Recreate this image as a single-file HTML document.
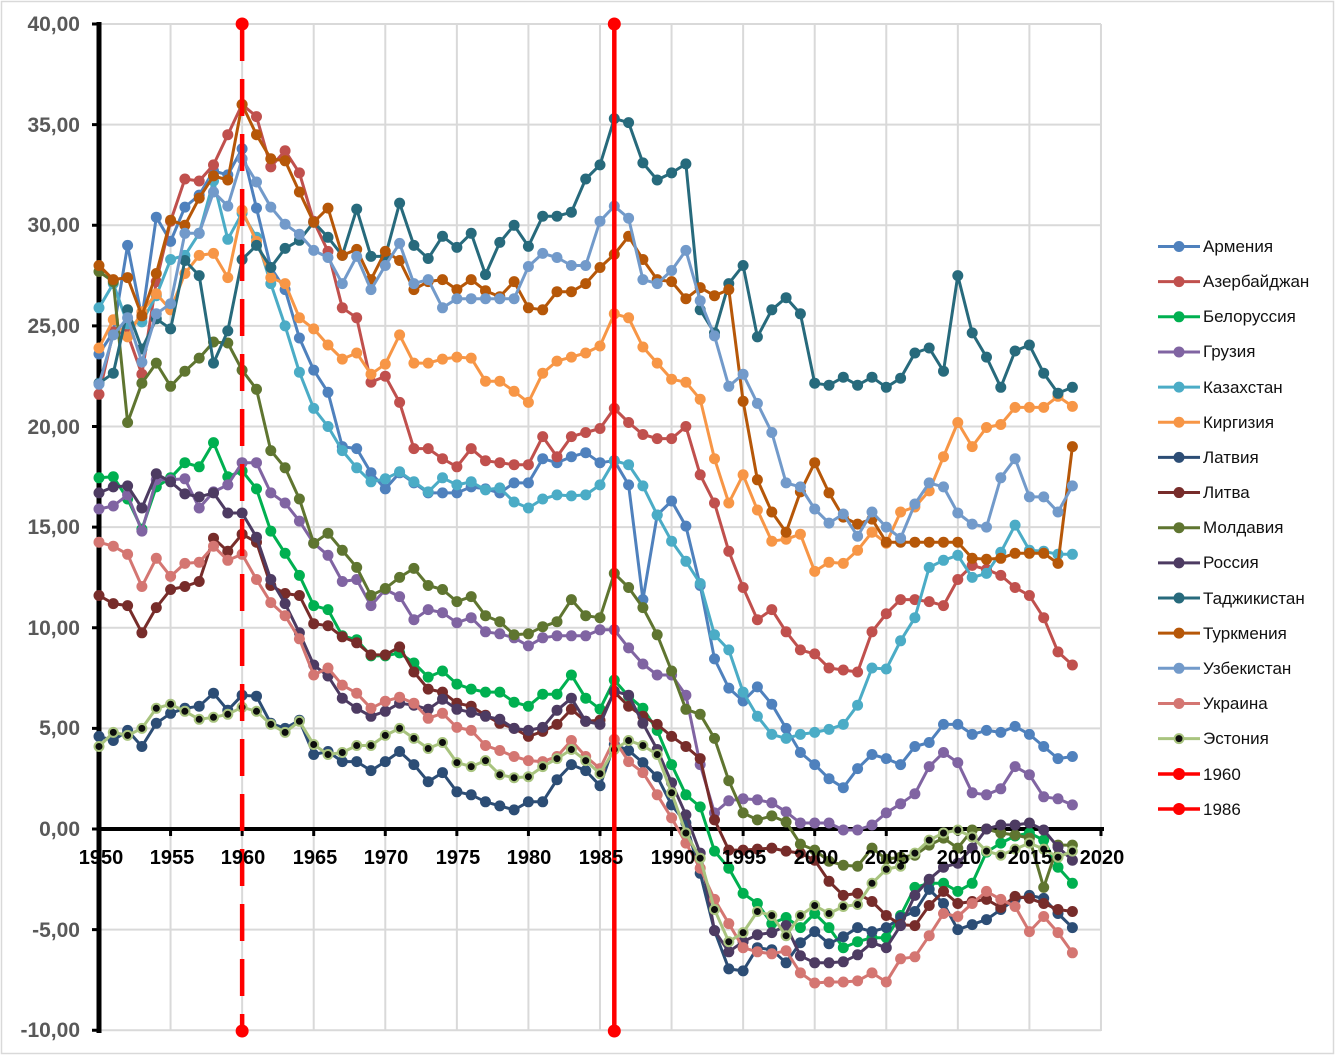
<!DOCTYPE html>
<html><head><meta charset="utf-8">
<style>
html,body{margin:0;padding:0;background:#fff;}
svg{display:block;font-family:"Liberation Sans",Arial,sans-serif;}
</style></head>
<body>
<svg id="c" xmlns="http://www.w3.org/2000/svg" width="1335" height="1055" viewBox="0 0 1335 1055">
<rect x="0" y="0" width="1335" height="1055" fill="#fff"/>
<rect x="1.5" y="1.5" width="1332" height="1052" fill="none" stroke="#d9d9d9" stroke-width="1.5"/>
<g id="grid" stroke="#d9d9d9" stroke-width="2"></g>
<g id="axes"></g>
<g font-weight="bold" font-size="21" fill="#595959" text-anchor="end">
<text x="80" y="31">40,00</text>
<text x="80" y="132">35,00</text>
<text x="80" y="232">30,00</text>
<text x="80" y="333">25,00</text>
<text x="80" y="434">20,00</text>
<text x="80" y="534">15,00</text>
<text x="80" y="635">10,00</text>
<text x="80" y="735">5,00</text>
<text x="80" y="836">0,00</text>
<text x="80" y="937">-5,00</text>
<text x="80" y="1037">-10,00</text>
</g>
<g id="series"></g>
<g font-weight="bold" font-size="20" fill="#000" text-anchor="middle">
<text x="101" y="864">1950</text>
<text x="172" y="864">1955</text>
<text x="243" y="864">1960</text>
<text x="315" y="864">1965</text>
<text x="386" y="864">1970</text>
<text x="458" y="864">1975</text>
<text x="529" y="864">1980</text>
<text x="601" y="864">1985</text>
<text x="673" y="864">1990</text>
<text x="744" y="864">1995</text>
<text x="816" y="864">2000</text>
<text x="887" y="864">2005</text>
<text x="959" y="864">2010</text>
<text x="1030" y="864">2015</text>
<text x="1102" y="864">2020</text>
</g>
<g id="legend"></g>
<g font-size="17" fill="#111">
<text x="1203" y="252">Армения</text>
<text x="1203" y="287">Азербайджан</text>
<text x="1203" y="322">Белоруссия</text>
<text x="1203" y="357">Грузия</text>
<text x="1203" y="393">Казахстан</text>
<text x="1203" y="428">Киргизия</text>
<text x="1203" y="463">Латвия</text>
<text x="1203" y="498">Литва</text>
<text x="1203" y="533">Молдавия</text>
<text x="1203" y="568">Россия</text>
<text x="1203" y="604">Таджикистан</text>
<text x="1203" y="639">Туркмения</text>
<text x="1203" y="674">Узбекистан</text>
<text x="1203" y="709">Украина</text>
<text x="1203" y="744">Эстония</text>
<text x="1203" y="780">1960</text>
<text x="1203" y="815">1986</text>
</g>
</svg>
<script>
(function(){
var NS="http://www.w3.org/2000/svg";
function el(t,a,p){var e=document.createElementNS(NS,t);for(var k in a)e.setAttribute(k,a[k]);p.appendChild(e);return e;}
function X(i){return 99+i*14.314;}
function Y(v){return 829-v*20.125;}
var grid=document.getElementById('grid'),axes=document.getElementById('axes'),ser=document.getElementById('series'),leg=document.getElementById('legend');
for(var v=-10;v<=40;v+=5){if(v===0)continue;el('line',{x1:99,x2:1101,y1:Y(v),y2:Y(v)},grid);}
for(var y=5;y<=70;y+=5){el('line',{x1:X(y),x2:X(y),y1:24,y2:1031},grid);}
el('line',{x1:99,x2:99,y1:22,y2:1033,stroke:'#000','stroke-width':5},axes);
for(var v=-10;v<=40;v+=5){el('line',{x1:92,x2:99,y1:Y(v),y2:Y(v),stroke:'#000','stroke-width':3},axes);}
el('line',{x1:99,x2:1104,y1:829,y2:829,stroke:'#000','stroke-width':4},axes);
for(var y=0;y<=70;y+=5){el('line',{x1:X(y),x2:X(y),y1:829,y2:836,stroke:'#000','stroke-width':3},axes);}

var S=[
['#4F81BD',[23.6,24.7,29.0,25.4,30.4,29.2,30.9,31.5,32.7,32.5,33.8,30.85,27.9,26.8,24.4,22.8,21.7,19.0,18.9,17.7,16.9,17.7,17.2,16.7,16.7,16.7,17.0,16.9,16.7,17.2,17.2,18.4,18.2,18.5,18.7,18.2,18.3,17.1,11.4,15.6,16.3,15.05,12.1,8.45,7.0,6.36,7.06,6.2,5.0,3.8,3.2,2.5,2.05,3.0,3.7,3.5,3.2,4.1,4.3,5.2,5.2,4.7,4.9,4.8,5.1,4.7,4.1,3.5,3.6]],
['#C0504D',[21.6,24.7,24.6,22.6,27.2,30.2,32.3,32.2,33.0,34.5,36.0,35.4,32.9,33.7,32.6,30.2,28.7,25.9,25.4,22.2,22.5,21.2,18.9,18.9,18.4,18.0,18.9,18.3,18.2,18.1,18.1,19.5,18.5,19.5,19.7,19.9,20.9,20.2,19.6,19.4,19.4,20.0,17.6,16.2,13.8,12.0,10.4,10.9,9.8,8.9,8.7,8.0,7.9,7.8,9.8,10.7,11.4,11.4,11.3,11.1,12.4,13.1,12.9,12.6,12.0,11.6,10.5,8.8,8.15]],
['#00B050',[17.45,17.5,16.4,14.9,17.0,17.45,18.2,18.0,19.2,17.5,17.8,16.9,14.8,13.7,12.6,11.1,10.9,9.6,9.4,8.6,8.6,8.75,8.25,7.55,7.85,7.2,6.95,6.8,6.8,6.3,6.1,6.7,6.7,7.65,6.5,5.96,7.4,6.6,6.0,4.9,3.2,1.7,1.1,-1.1,-1.95,-3.2,-3.7,-4.7,-4.4,-4.9,-4.2,-4.9,-5.9,-5.6,-5.4,-5.4,-4.3,-2.9,-2.7,-2.7,-3.1,-2.7,-1.15,-0.7,-0.35,-0.2,-0.55,-1.9,-2.7]],
['#8064A2',[15.9,16.05,16.6,14.8,17.35,17.35,17.4,15.95,16.75,17.1,18.2,18.2,16.7,16.2,15.3,14.2,13.6,12.3,12.4,11.1,11.9,11.55,10.4,10.9,10.75,10.25,10.5,9.8,9.7,9.5,9.1,9.5,9.6,9.6,9.6,9.9,9.9,9.0,8.2,7.65,7.65,6.65,3.2,0.8,1.4,1.5,1.45,1.3,0.85,0.3,0.3,0.3,-0.05,-0.05,0.2,0.8,1.25,1.75,3.1,3.8,3.3,1.8,1.7,2.0,3.1,2.7,1.6,1.5,1.2]],
['#4BACC6',[25.9,27.1,25.1,25.2,26.5,28.3,28.5,29.6,32.2,29.3,30.6,29.4,27.1,25.0,22.7,20.9,20.0,18.8,17.95,17.25,17.4,17.75,17.25,16.75,17.45,17.1,17.25,16.85,16.95,16.25,15.95,16.4,16.6,16.55,16.6,17.1,18.3,18.1,17.05,15.6,14.3,13.3,12.2,9.65,8.9,6.8,5.6,4.7,4.5,4.7,4.8,4.95,5.2,6.15,8.0,7.95,9.35,10.5,13.0,13.35,13.6,12.5,12.7,13.75,15.1,13.85,13.8,13.65,13.65]],
['#F79646',[23.9,25.3,24.45,25.7,26.6,25.8,27.6,28.5,28.6,27.4,30.75,29.2,27.4,27.1,25.4,24.85,24.05,23.35,23.65,22.6,23.1,24.55,23.15,23.15,23.35,23.45,23.4,22.25,22.25,21.75,21.2,22.65,23.25,23.45,23.65,24.0,25.6,25.4,23.95,23.15,22.35,22.2,21.35,18.4,16.2,17.6,15.85,14.3,14.4,14.65,12.8,13.25,13.2,13.85,14.75,14.2,15.75,16.0,16.8,18.5,20.2,19.0,19.95,20.1,20.95,20.95,20.95,21.5,21.0]],
['#2C4D75',[4.6,4.4,4.9,4.1,5.25,5.75,6.0,6.1,6.75,5.9,6.65,6.6,5.25,5.0,5.4,3.7,3.85,3.35,3.35,2.9,3.35,3.85,3.2,2.35,2.8,1.85,1.7,1.35,1.15,0.95,1.35,1.35,2.45,3.2,2.9,2.15,4.2,3.9,3.3,2.6,1.2,0.3,-2.2,-5.05,-6.95,-7.05,-5.9,-6.0,-6.65,-5.65,-5.1,-5.7,-5.35,-4.9,-5.1,-4.9,-4.4,-4.1,-3.0,-3.7,-5.0,-4.75,-4.5,-4.0,-3.5,-3.3,-3.45,-4.2,-4.9]],
['#772C2A',[11.6,11.2,11.1,9.75,11.0,11.9,12.05,12.3,14.45,13.8,14.65,14.25,12.1,11.7,11.6,10.2,10.1,9.55,9.25,8.65,8.65,9.05,7.8,6.95,6.8,6.25,6.1,5.65,5.25,5.0,4.6,4.85,5.2,5.95,5.35,5.4,6.8,6.1,5.6,5.2,4.6,4.1,3.5,0.45,-1.05,-1.05,-1.0,-0.95,-1.1,-1.2,-1.55,-2.6,-3.3,-3.2,-3.6,-4.3,-4.75,-4.8,-3.8,-3.1,-3.7,-3.6,-3.5,-3.9,-3.35,-3.45,-3.7,-4.0,-4.1]],
['#5F7530',[27.7,27.2,20.2,22.15,23.15,22.0,22.75,23.4,24.2,24.15,22.8,21.85,18.8,17.95,16.4,14.2,14.7,13.85,13.0,11.6,11.95,12.5,12.95,12.1,11.9,11.3,11.55,10.6,10.3,9.65,9.7,10.05,10.3,11.4,10.6,10.5,12.7,12.0,11.0,9.65,7.85,5.95,5.7,4.5,2.4,0.8,0.45,0.65,0.35,-0.75,-1.05,-1.6,-1.8,-1.85,-0.95,-1.5,-1.4,-1.3,-0.8,-0.45,-0.95,-0.05,0.0,-0.2,-0.3,-0.45,-2.9,-0.8,-0.8]],
['#4D3B62',[16.7,17.0,17.05,15.95,17.65,17.25,16.65,16.5,16.7,15.7,15.7,14.5,12.4,11.2,9.75,8.15,7.6,6.5,6.0,5.6,5.85,6.25,6.15,5.95,6.45,5.95,5.8,5.6,5.45,5.0,4.9,5.05,5.9,6.5,5.35,5.2,6.85,6.65,5.25,3.95,2.3,0.7,-1.2,-5.05,-6.1,-5.6,-5.25,-5.15,-4.8,-6.3,-6.65,-6.65,-6.6,-6.25,-5.65,-5.9,-4.8,-3.3,-2.5,-1.9,-1.7,-0.95,0.0,0.2,0.2,0.3,-0.05,-0.9,-1.55]],
['#276A7C',[22.15,22.65,25.8,23.85,25.35,24.85,28.25,27.5,23.15,24.75,28.3,29.0,27.9,28.85,29.25,30.15,29.4,28.5,30.8,28.45,28.45,31.1,29.0,28.35,29.45,28.9,29.6,27.55,29.15,30.0,28.95,30.45,30.45,30.65,32.3,33.0,35.3,35.1,33.1,32.25,32.6,33.05,25.8,24.65,27.1,28.0,24.45,25.8,26.4,25.6,22.15,22.05,22.45,22.05,22.45,21.95,22.4,23.65,23.9,22.75,27.5,24.65,23.45,21.95,23.75,24.05,22.65,21.65,21.95]],
['#B65708',[28.0,27.3,27.4,25.5,27.6,30.25,30.0,31.35,32.45,32.25,36.0,34.5,33.3,33.2,31.65,30.15,30.85,28.5,28.8,27.3,28.7,28.25,26.8,27.2,27.3,26.8,27.3,26.75,26.45,27.2,25.9,25.8,26.7,26.7,27.1,27.9,28.55,29.45,28.3,27.3,27.2,26.35,26.9,26.5,26.8,21.25,17.35,15.75,14.75,16.75,18.2,16.7,15.5,15.15,15.4,14.25,14.25,14.25,14.25,14.25,14.25,13.45,13.4,13.45,13.7,13.7,13.7,13.2,19.0]],
['#729ACA',[22.1,24.55,25.4,23.2,25.6,26.1,29.6,29.6,31.65,30.95,33.3,32.15,30.9,30.05,29.55,28.75,28.4,27.1,28.45,26.8,28.0,29.1,27.1,27.3,25.9,26.35,26.35,26.35,26.35,26.35,27.95,28.6,28.4,28.0,28.0,30.2,30.95,30.35,27.3,27.1,27.75,28.75,26.25,24.5,22.0,22.6,21.15,19.7,17.2,17.0,15.9,15.2,15.65,14.55,15.75,15.0,14.45,16.15,17.2,17.0,15.7,15.15,15.0,17.45,18.4,16.5,16.5,15.75,17.05]],
['#D47672',[14.25,14.05,13.65,12.05,13.45,12.55,13.2,13.25,14.05,13.35,13.65,12.4,11.25,10.6,9.45,7.65,8.0,7.15,6.75,6.0,6.35,6.55,6.25,5.5,5.75,5.05,4.9,4.15,3.9,3.6,3.4,3.35,3.6,4.4,3.6,3.0,4.45,3.35,2.8,1.7,0.55,-0.7,-1.95,-3.5,-4.7,-5.9,-6.1,-6.2,-6.05,-7.15,-7.65,-7.6,-7.6,-7.55,-7.15,-7.6,-6.45,-6.35,-5.3,-4.2,-4.35,-3.7,-3.1,-3.5,-3.85,-5.1,-4.35,-5.15,-6.15]],
['#A9C47F',[4.1,4.8,4.65,5.0,6.0,6.2,5.85,5.45,5.55,5.7,6.05,5.85,5.2,4.8,5.35,4.2,3.7,3.8,4.15,4.15,4.65,5.0,4.5,4.0,4.3,3.3,3.1,3.4,2.7,2.55,2.6,3.1,3.5,3.95,3.4,2.75,3.95,4.4,4.15,3.7,1.8,-0.2,-1.45,-4.0,-5.6,-5.15,-4.1,-4.3,-5.3,-4.3,-3.8,-4.2,-3.85,-3.75,-2.7,-2.0,-1.85,-1.2,-0.55,-0.2,-0.05,-0.4,-1.1,-1.3,-1.0,-0.7,-1.0,-1.4,-1.1],1]
];
S.forEach(function(s,idx){
  var col=s[0],d=s[1],est=s[2];
  var pts=d.map(function(v,i){return X(i).toFixed(1)+','+Y(v).toFixed(1);}).join(' ');
  el('polyline',{points:pts,fill:'none',stroke:col,'stroke-width':3,'stroke-linejoin':'round'},ser);
  d.forEach(function(v,i){
    if(est)el('circle',{cx:X(i).toFixed(1),cy:Y(v).toFixed(1),r:4.5,fill:'#0d0d0d',stroke:col,'stroke-width':2},ser);
    else el('circle',{cx:X(i).toFixed(1),cy:Y(v).toFixed(1),r:5.5,fill:col},ser);
  });
  var ly=246.5+idx*35.15;
  el('line',{x1:1158,x2:1200,y1:ly,y2:ly,stroke:col,'stroke-width':3},leg);
  if(est)el('circle',{cx:1179,cy:ly,r:4.5,fill:'#0d0d0d',stroke:col,'stroke-width':2},leg);
  else el('circle',{cx:1179,cy:ly,r:5.5,fill:col},leg);
});
var x60=X(10),x86=X(36);
el('line',{x1:x60,x2:x60,y1:24,y2:1031,stroke:'#FF0000','stroke-width':4.5,'stroke-dasharray':'37 18'},ser);
el('circle',{cx:x60,cy:24,r:6.5,fill:'#FF0000'},ser);
el('circle',{cx:x60,cy:1031,r:6.5,fill:'#FF0000'},ser);
el('line',{x1:x86,x2:x86,y1:24,y2:1031,stroke:'#FF0000','stroke-width':4.5},ser);
el('circle',{cx:x86,cy:24,r:6.5,fill:'#FF0000'},ser);
el('circle',{cx:x86,cy:1031,r:6.5,fill:'#FF0000'},ser);
[774,809].forEach(function(ly){
  el('line',{x1:1158,x2:1200,y1:ly,y2:ly,stroke:'#FF0000','stroke-width':3.5},leg);
  el('circle',{cx:1179,cy:ly,r:6,fill:'#FF0000'},leg);
});
})();
</script>
</body></html>
